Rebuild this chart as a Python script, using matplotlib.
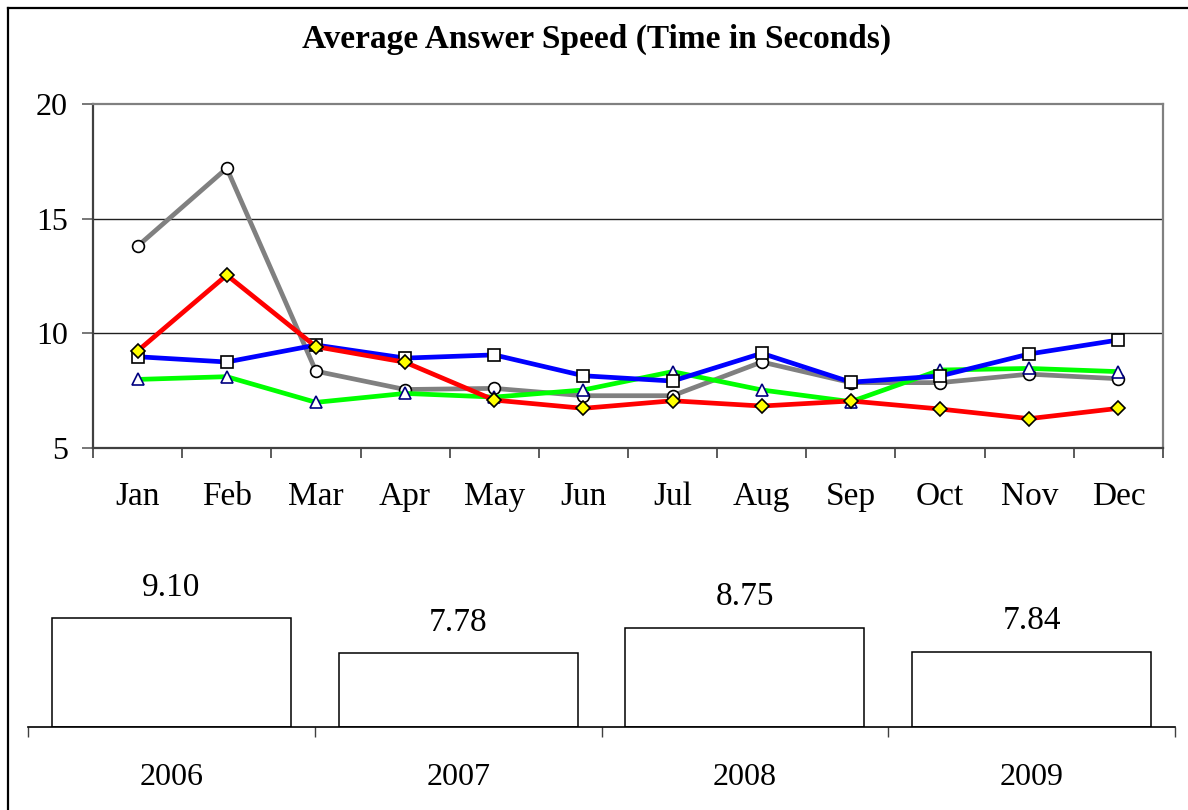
import numpy as np
import matplotlib
matplotlib.use("Agg")
import matplotlib.pyplot as plt
from matplotlib.lines import Line2D

plt.rcParams["font.family"] = ["Liberation Serif", "DejaVu Serif"]

MONTHS = ["Jan", "Feb", "Mar", "Apr", "May", "Jun", "Jul", "Aug", "Sep", "Oct", "Nov", "Dec"]
Y2006 = [13.80, 17.20, 8.35, 7.55, 7.60, 7.28, 7.28, 8.75, 7.85, 7.85, 8.22, 8.02]
Y2007 = [7.99, 8.11, 6.99, 7.38, 7.22, 7.53, 8.33, 7.53, 7.02, 8.40, 8.47, 8.33]
Y2008 = [8.98, 8.75, 9.49, 8.92, 9.06, 8.15, 7.92, 9.13, 7.87, 8.14, 9.10, 9.71]
Y2009 = [9.23, 12.54, 9.42, 8.74, 7.09, 6.73, 7.06, 6.83, 7.05, 6.70, 6.28, 6.73]

YEARS = ["2006", "2007", "2008", "2009"]
YEAR_AVG = [9.10, 7.78, 8.75, 7.84]

# style per series: line colour, marker, marker face, marker edge
STYLES = [
    (Y2006, "#808080", "o", "white", "black"),
    (Y2007, "#00FF00", "^", "white", "#000080"),
    (Y2008, "#0000FF", "s", "white", "black"),
    (Y2009, "#FF0000", "D", "#FFFF00", "black"),
]

W, H = 1188, 810
fig = plt.figure(figsize=(W / 100, H / 100), dpi=100)

# outer border (only left and top visible in the reference)
fig.add_artist(Line2D([7.5 / W, 7.5 / W], [0, 1 - 7.5 / H], color="black", lw=1.6))
fig.add_artist(Line2D([7.5 / W, 1], [1 - 7.5 / H, 1 - 7.5 / H], color="black", lw=1.6))

fig.text(597 / W, 1 - 39 / H, "Average Answer Speed (Time in Seconds)",
         ha="center", va="center", fontsize=24, fontweight="bold")

# ---- monthly lines ----
ax = fig.add_axes([93 / W, 1 - 448 / H, (1163 - 93) / W, (448 - 104) / H])
x = np.arange(1, len(MONTHS) + 1)
for vals, col, mk, mfc, mec in STYLES:
    ax.plot(x, vals, color=col, lw=3.4, marker=mk, markersize=8.5 if mk != "D" else 7,
            markerfacecolor=mfc, markeredgecolor=mec, markeredgewidth=1.2)
ax.set_xlim(0.5, 12.5)
ax.set_ylim(5, 20)
ax.set_yticks([5, 10, 15, 20])
ax.set_yticklabels(["5", "10", "15", "20"], fontsize=23)
for yv in (10, 15):
    ax.axhline(yv, color="#202020", lw=1.0, zorder=0)
ax.set_xticks(x)
ax.set_xticklabels(MONTHS, fontsize=24)
ax.set_xticks(np.arange(0.5, 13.0, 1.0), minor=True)
ax.tick_params(axis="x", which="major", length=0, pad=24)
ax.tick_params(axis="x", which="minor", length=7, color="#404040", width=1.2, direction="out")
ax.tick_params(axis="y", length=8, color="#606060", width=1.2, pad=10, direction="out")
ax.spines["left"].set_color("#404040")
ax.spines["bottom"].set_color("#404040")
ax.spines["top"].set_color("#808080")
ax.spines["right"].set_color("#808080")
for s in ax.spines.values():
    s.set_linewidth(1.6)

# ---- yearly averages ----
bx = fig.add_axes([28 / W, 1 - 727 / H, (1175 - 28) / W, (727 - 568) / H])
xb = np.arange(len(YEARS))
bx.bar(xb, [v - 5 for v in YEAR_AVG], bottom=5, width=0.833,
       color="white", edgecolor="black", linewidth=1.1)
for xi, v in zip(xb, YEAR_AVG):
    bx.annotate(f"{v:.2f}", (xi, v), xytext=(0, 11), textcoords="offset points",
                ha="center", va="bottom", fontsize=24)
bx.set_xlim(-0.5, len(YEARS) - 0.5)
bx.set_ylim(5, 11)
bx.set_yticks([])
bx.set_xticks(xb)
bx.set_xticklabels(YEARS, fontsize=23)
bx.set_xticks(np.arange(-0.5, len(YEARS), 1.0), minor=True)
bx.tick_params(axis="x", which="major", length=0, pad=26)
bx.tick_params(axis="x", which="minor", length=7, color="#404040", width=1.0)
for side in ("left", "top", "right"):
    bx.spines[side].set_visible(False)
bx.spines["bottom"].set_color("black")
bx.spines["bottom"].set_linewidth(1.2)
bx.patch.set_alpha(0)

fig.savefig("out.png", dpi=100)
